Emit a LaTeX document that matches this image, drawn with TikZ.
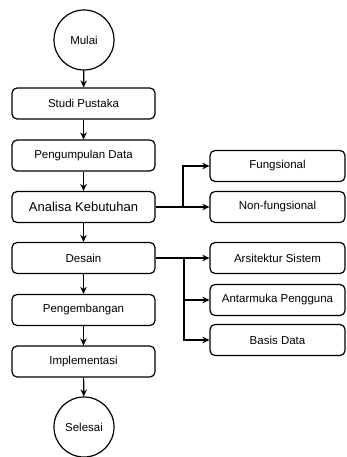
\documentclass[tikz,border=0pt]{standalone}
\usepackage{fontspec}
\setmainfont{Liberation Sans}
\usetikzlibrary{arrows.meta}
\begin{document}
\begin{tikzpicture}[x=1pt,y=-1pt,line width=1.2pt,
  box/.style={draw,rounded corners=5pt,minimum width=143pt,minimum height=31pt,inner sep=0pt,font=\fontsize{11.5}{13}\selectfont},
  rbox/.style={box,minimum width=135pt},
  circ/.style={draw,circle,minimum size=60pt,inner sep=0pt,font=\fontsize{11.5}{13}\selectfont},
  arr/.style={-{Stealth[length=7pt,width=6.5pt]}}]
\useasboundingbox (0,0) rectangle (346,457);
\node[circ] (mulai) at (84,40) {Mulai};
\node[box] (studi) at (83.5,103.5) {Studi Pustaka};
\node[box] (kumpul) at (83.5,155.5) {Pengumpulan Data};
\node[box,font=\fontsize{13}{15}\selectfont] (analisa) at (83.5,207) {Analisa Kebutuhan};
\node[box] (desain) at (83.5,258) {Desain};
\node[box] (kembang) at (83.5,310) {Pengembangan};
\node[box] (impl) at (83.5,361.5) {Implementasi};
\node[circ] (selesai) at (84,427) {Selesai};
\node[rbox] (fung) at (277.5,166) {Fungsional};
\node[rbox] (nonf) at (277.5,207) {Non-fungsional};
\node[rbox] (arsi) at (277.5,258) {Arsitektur Sistem};
\node[rbox] (antar) at (277.5,300) {Antarmuka Pengguna};
\node[rbox] (basis) at (277.5,340) {Basis Data};
\coordinate (b1) at (183,207);
\coordinate (b2) at (184,258);
\draw[arr] (mulai) -- (studi);
\draw[arr] (studi) -- (kumpul);
\draw[arr] (kumpul) -- (analisa);
\draw[arr] (analisa) -- (desain);
\draw[arr] (desain) -- (kembang);
\draw[arr] (kembang) -- (impl);
\draw[arr] (impl) -- (selesai);
\draw[arr] (analisa.east) -- (nonf.west);
\draw[arr] (b1) |- (fung.west);
\draw[arr] (desain.east) -- (arsi.west);
\draw[arr] (b2) |- (antar.west);
\draw[arr] (b2) |- (basis.west);
\end{tikzpicture}
\end{document}
